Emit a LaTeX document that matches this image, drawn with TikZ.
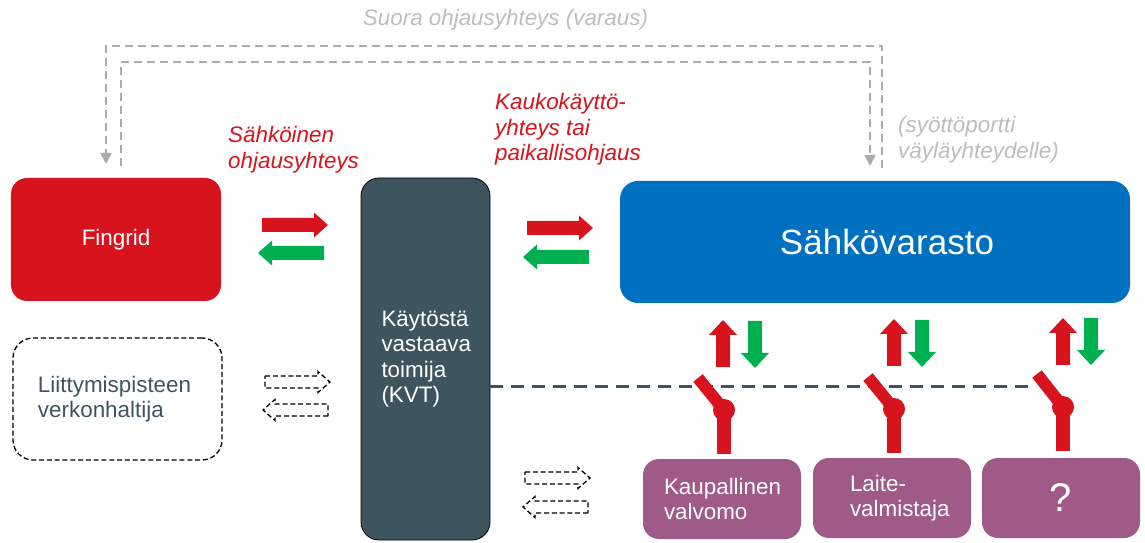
\documentclass[tikz,border=0pt]{standalone}
\usepackage{fontspec}
\setmainfont{Liberation Sans}
\usetikzlibrary{arrows.meta}
\definecolor{fgred}{HTML}{D7141E}
\definecolor{fggreen}{HTML}{00B050}
\definecolor{fgblue}{HTML}{0070C0}
\definecolor{slate}{HTML}{3E5560}
\definecolor{plum}{HTML}{A05A87}
\definecolor{lgray}{HTML}{ABABAB}
\definecolor{tgray}{HTML}{BDBDBD}
\begin{document}
\begin{tikzpicture}[x=1bp,y=-1bp,
  txt/.style={font=\fontsize{22.4bp}{25.5bp}\selectfont},
  box/.style={rounded corners=16bp, inner sep=0pt, txt},
  lbl/.style={inner sep=0pt, align=left, font=\fontsize{22.4bp}{25.5bp}\selectfont\itshape},
  gdash/.style={lgray, line width=1.6bp, dash pattern=on 8bp off 5bp},
  gtip/.style={-{Triangle[width=11bp,length=11bp]}},
  blkdash/.style={draw=black, line width=1.3bp, dash pattern=on 5bp off 2.8bp},
  harrow/.pic={\path[pic actions] (0,-7) -- (52,-7) -- (52,-12.5) -- (66,0) -- (52,12.5) -- (52,7) -- (0,7) -- cycle;},
  darrow/.pic={\path[pic actions] (0,-6) -- (53,-6) -- (53,-10.5) -- (65,0) -- (53,10.5) -- (53,6) -- (0,6) -- cycle;},
  varrow/.pic={\path[pic actions] (-7,0) -- (-7,-32) -- (-14,-32) -- (0,-47) -- (14,-32) -- (7,-32) -- (7,0) -- cycle;},
  swblade/.style={fgred, line width=12bp},
  swbar/.style={fgred, line width=14bp}
]
\useasboundingbox (0,0) rectangle (1145,543);

% boxes
\node[box, fill=fgred, text=white, minimum width=210bp, minimum height=123bp] (fingrid) at (116,239.5) {Fingrid};
\node[box, blkdash, rounded corners=20bp, text=slate, minimum width=209bp, minimum height=122bp, text width=159bp, align=left] (lvh) at (117.5,399) {Liittymispisteen\\verkonhaltija};
\node[box, fill=slate, draw=black, line width=0.8bp, rounded corners=18bp, text=white, minimum width=129bp, minimum height=362bp, text width=88bp, align=left] (kvt) at (425.5,359) {Käytöstä\\vastaava\\toimija\\(KVT)};
\node[box, fill=fgblue, text=white, rounded corners=18bp, minimum width=510bp, minimum height=122bp, font=\fontsize{35bp}{40bp}\selectfont] (sahko) at (875,242) {\hspace*{24bp}Sähkövarasto};
\node[box, fill=plum, text=white, minimum width=158bp, minimum height=80bp, text width=116bp, align=left] (kv) at (722,499) {Kaupallinen\\valvomo};
\node[box, fill=plum, text=white, minimum width=158bp, minimum height=80bp, text width=84bp, align=left] (lv) at (892,498) {Laite-\\valmistaja};
\node[box, fill=plum, text=white, minimum width=158bp, minimum height=80bp, font=\fontsize{40bp}{44bp}\selectfont] (q) at (1061,498) {?};

% labels
\node[lbl, text=tgray, anchor=center] (suora) at (505.5,20) {Suora ohjausyhteys (varaus)};
\node[lbl, text=fgred, anchor=west] (l1) at (228,149.5) {Sähköinen\\ohjausyhteys};
\node[lbl, text=fgred, anchor=west] (l2) at (495,129.5) {Kaukokäyttö-\\yhteys tai\\paikallisohjaus};
\node[lbl, text=tgray, anchor=west] (l3) at (898,139.5) {(syöttöportti\\väyläyhteydelle)};

% direct control dashed connectors
\coordinate (a1) at (882,168);
\coordinate (a2) at (106,164);
\coordinate (b1) at (121,166);
\coordinate (b2) at (870,166);
\draw[gdash, gtip] (a1) |- (106,46) -- (a2);
\draw[gdash, gtip] (b1) |- (870,62) -- (b2);

% solid block arrows
\pic[fill=fgred] at (262,225) {harrow};
\pic[fill=fggreen, rotate=180] at (324,253) {harrow};
\pic[fill=fgred] at (527,228) {harrow};
\pic[fill=fggreen, rotate=180] at (589,257) {harrow};

% dashed outline arrows
\pic[blkdash, fill=white] at (265,382) {darrow};
\pic[blkdash, fill=white, rotate=180] at (328,410) {darrow};
\pic[blkdash, fill=white] at (525,478) {darrow};
\pic[blkdash, fill=white, rotate=180] at (588,507) {darrow};

% bus line
\coordinate (dl) at (1030,387);
\draw[slate, line width=3bp, dash pattern=on 13bp off 8bp] (kvt.east |- dl) -- (dl);

% up/down arrows
\pic[fill=fgred] at (723,367) {varrow};
\pic[fill=fggreen, rotate=180] at (755,321) {varrow};
\pic[fill=fgred] at (894,366) {varrow};
\pic[fill=fggreen, rotate=180] at (922,320) {varrow};
\pic[fill=fgred] at (1063,365) {varrow};
\pic[fill=fggreen, rotate=180] at (1091,318) {varrow};

% switches
\draw[swblade] (698,378) -- (724,410);
\fill[fgred] (724,410) circle[radius=11bp];
\draw[swbar] (724,410) -- (724,454);
\draw[swblade] (868,377) -- (894,409);
\fill[fgred] (894,409) circle[radius=11bp];
\draw[swbar] (894,409) -- (894,453);
\draw[swblade] (1037,374) -- (1063,407);
\fill[fgred] (1063,407) circle[radius=11bp];
\draw[swbar] (1063,407) -- (1063,451);
\end{tikzpicture}
\end{document}
